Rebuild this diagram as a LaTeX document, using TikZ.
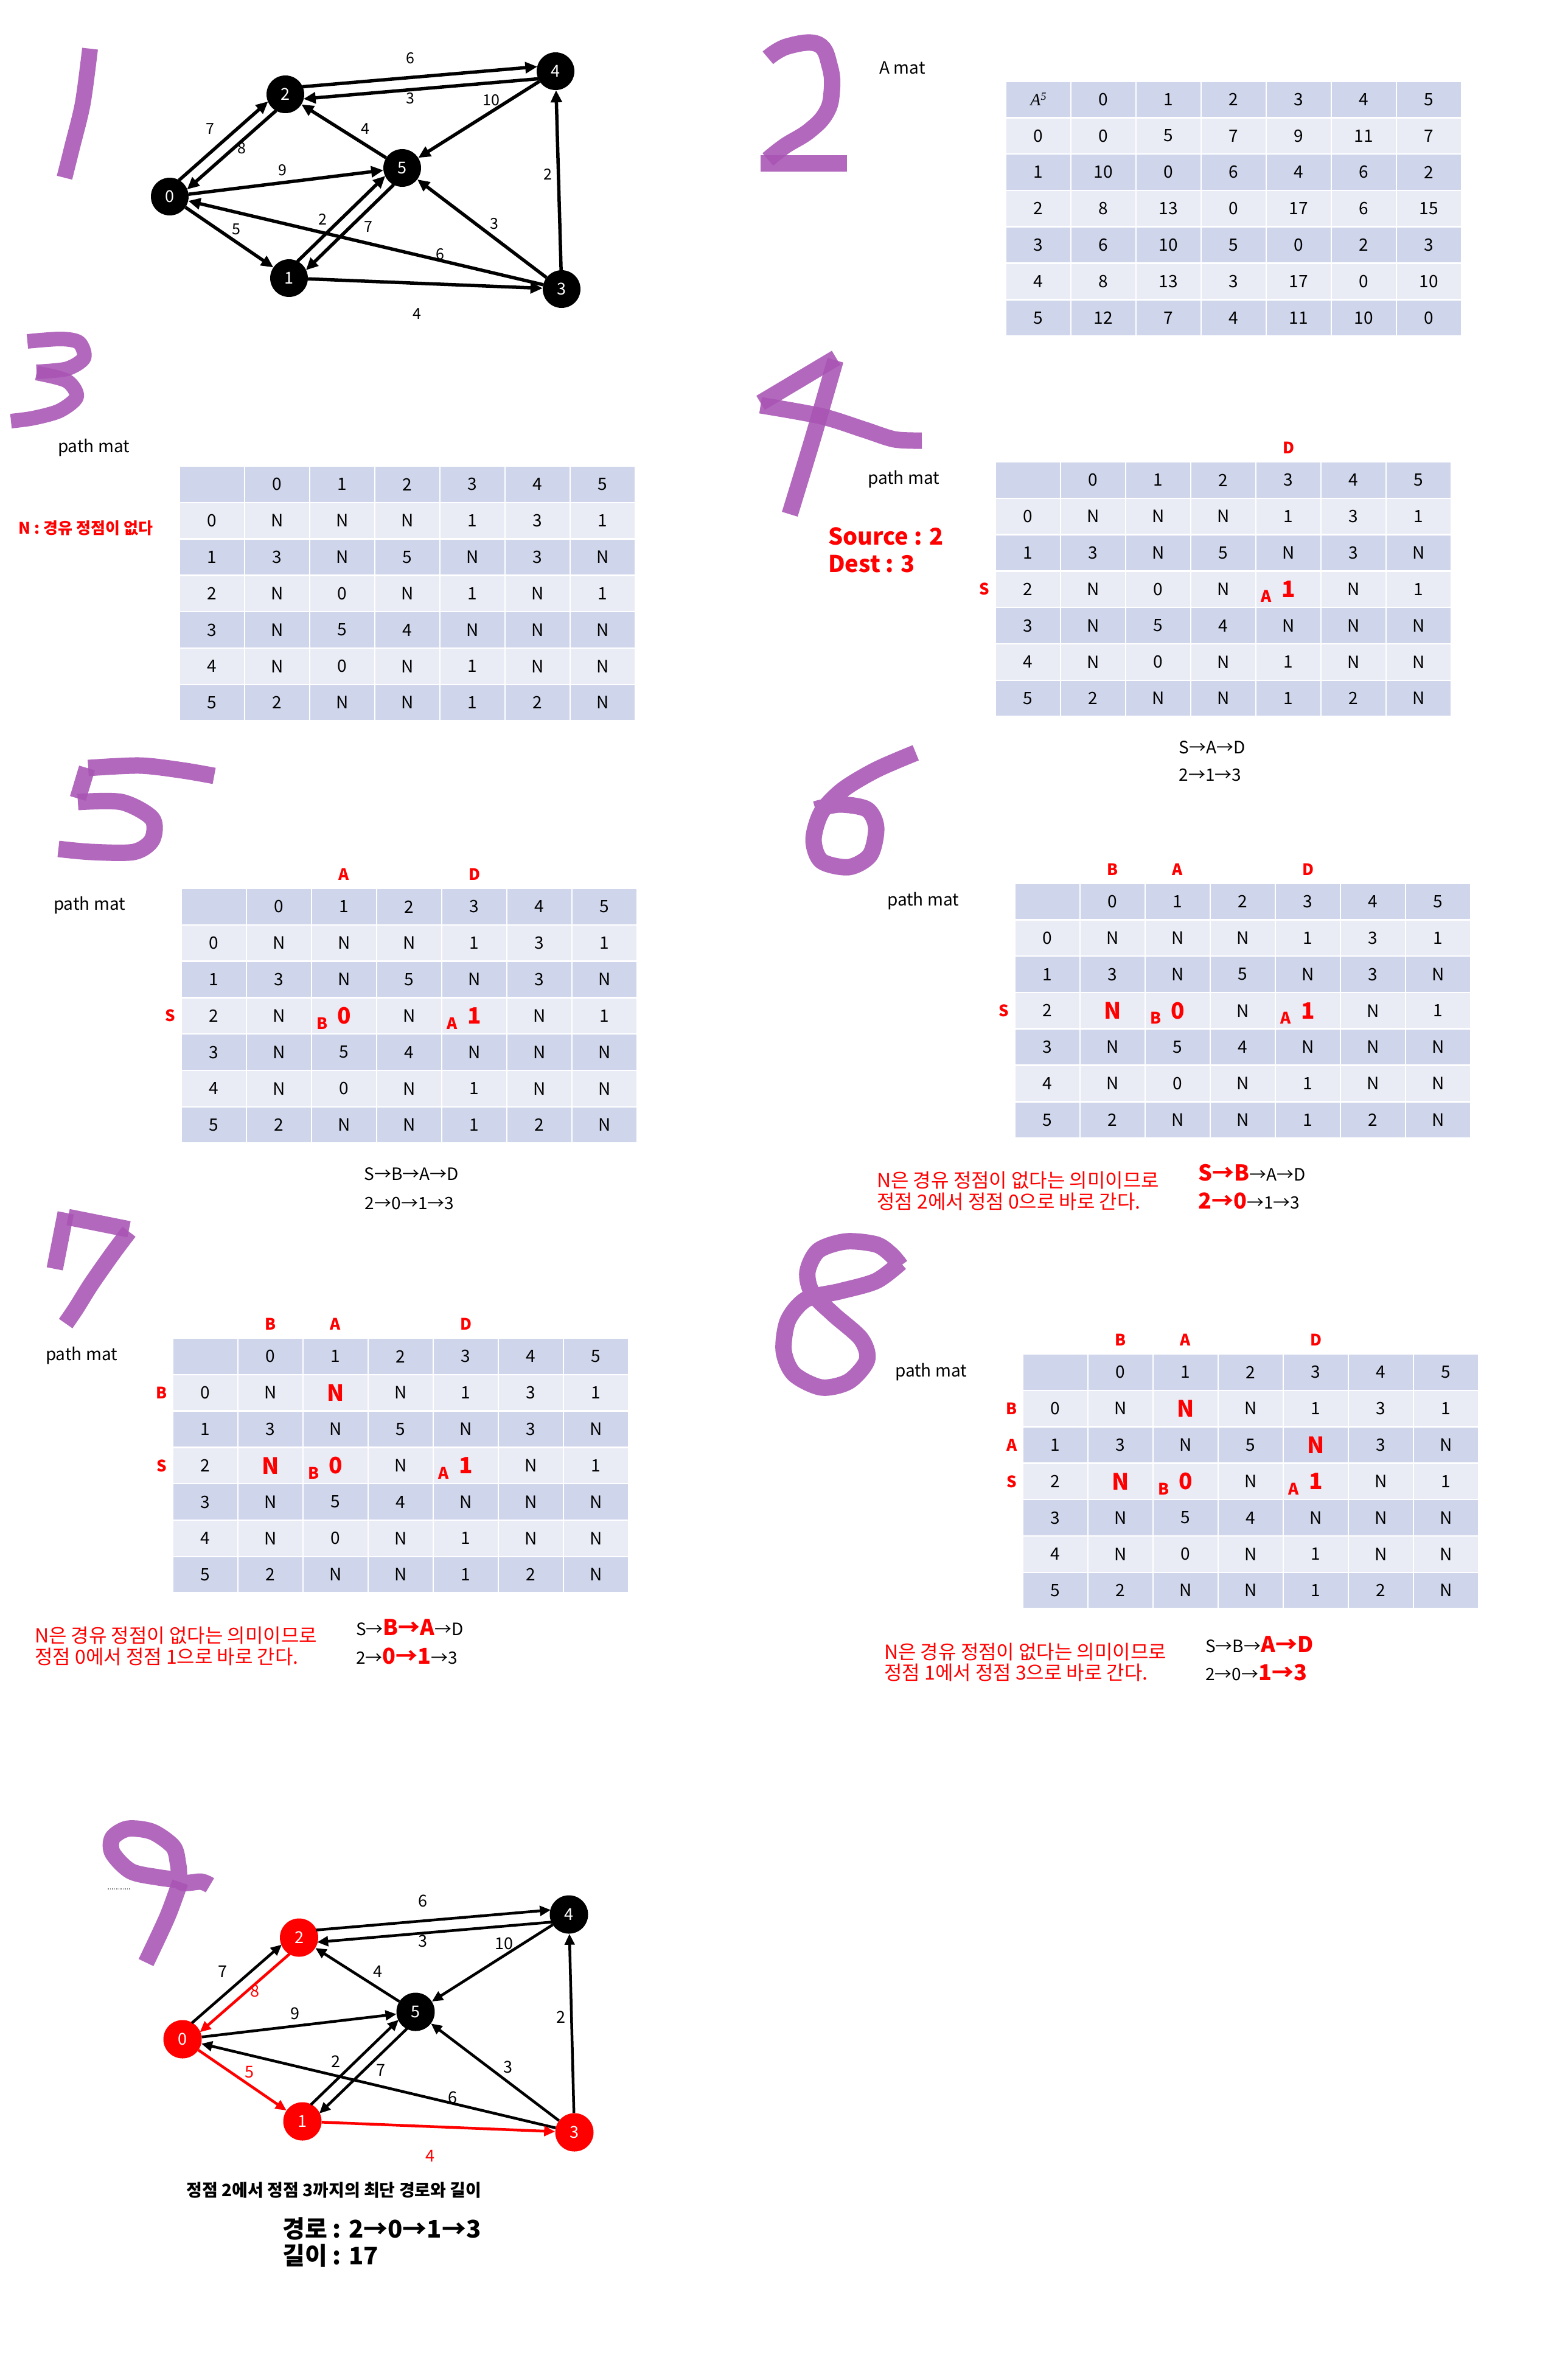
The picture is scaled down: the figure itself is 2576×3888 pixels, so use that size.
\documentclass[tikz,border=0pt]{standalone}
\usepackage{fontspec}
\setmainfont{Noto Sans CJK KR}
\newfontfamily\serifface{Liberation Serif}
\usetikzlibrary{arrows.meta,calc}
\definecolor{tdark}{RGB}{207,213,234}
\definecolor{tlight}{RGB}{233,235,245}
\definecolor{brushc}{RGB}{168,84,180}
\definecolor{hred}{RGB}{255,0,0}
\tikzset{
 brush/.style={draw=brushc, line width=27pt, opacity=0.88, line join=round, line cap=butt},
 cell/.style={draw=white, line width=2.5pt, inner sep=0pt, minimum width=107pt, minimum height=59.8pt, font=\fontsize{28}{32}\selectfont},
 bigred/.style={text=hred, font=\bfseries\fontsize{37}{40}\selectfont},
 redlet/.style={text=hred, font=\bfseries\fontsize{26}{30}\selectfont, inner sep=0pt},
 gnode/.style={circle, fill=black, text=white, minimum size=62pt, inner sep=0pt, font=\fontsize{27}{30}\selectfont},
 rnode/.style={gnode, fill=hred},
 e1/.style={draw=black, line width=5.5pt, -{Triangle[length=20pt,width=18pt]}},
 pe1/.style={e1, shorten <=29pt, shorten >=29pt},
 e9/.style={draw=black, line width=4.5pt, -{Triangle[length=18pt,width=16pt]}},
 pe9/.style={e9, shorten <=29pt, shorten >=29pt},
 elab/.style={font=\fontsize{25}{28}\selectfont, inner sep=0pt},
 lab/.style={font=\fontsize{28}{32}\selectfont, inner sep=0pt},
 ptxt/.style={font=\fontsize{28}{32}\selectfont, inner sep=0pt, anchor=west},
 krtxt/.style={font=\fontsize{32}{36}\selectfont, text=hred, inner sep=0pt, anchor=west},
}
\newcommand{\rb}[1]{{\color{hred}\bfseries\fontsize{36}{40}\selectfont #1}}
\def\pathdata{{{},0,1,2,3,4,5},{0,N,N,N,1,3,1},{1,3,N,5,N,3,N},{2,N,0,N,1,N,1},{3,N,5,4,N,N,N},{4,N,0,N,1,N,N},{5,2,N,N,1,2,N}}
\def\adata{{{\serifface\itshape A\raisebox{9pt}{\fontsize{18}{20}\selectfont 5}},0,1,2,3,4,5},{0,0,5,7,9,11,7},{1,10,0,6,4,6,2},{2,8,13,0,17,6,15},{3,6,10,5,0,2,3},{4,8,13,3,17,0,10},{5,12,7,4,11,10,0}}
\newcommand{\mktable}[4]{%
  \foreach \rowdata [count=\ri from 0] in #4 {
    \pgfmathtruncatemacro{\rodd}{mod(\ri,2)}
    \ifnum\rodd=0 \def\cc{tdark}\else\def\cc{tlight}\fi
    \foreach \v [count=\ci from 0] in \rowdata {
      \node[cell, fill=\cc] (#1-\ri-\ci) at ({#2+(\ci+0.5)*107}, {#3+(\ri+0.5)*59.8}) {\v};
    }
  }
}
\newcommand{\hlcell}[4]{\node[cell, fill=#3, bigred] (#1) at (#2) {#4};}
\newcommand{\collab}[3]{\node[redlet, anchor=base] (#1) at ($(#2.north)+(0,-12)$) {#3};}
\newcommand{\rowlab}[3]{\node[redlet] (#1) at ($(#2.west)+(-17,0)$) {#3};}
\newcommand{\sublab}[3]{\node[redlet] (#1) at ($(#2)+(-36,12)$) {#3};}
\begin{document}
\begin{tikzpicture}[x=1pt,y=-1pt]
\useasboundingbox (0,0) rectangle (2576,3888);
\fill[white] (0,0) rectangle (2576,3888);

% ---------- purple digits ----------
\draw[brush, line width=26pt] plot[smooth] coordinates {(148,80) (136,170) (119,240) (106,292)};
\draw[brush] plot[smooth, tension=0.7] coordinates {(1262,95) (1295,76) (1345,73) (1364,110) (1367,150) (1358,185) (1330,215) (1290,240) (1262,262)};
\draw[brush] (1250,269) -- (1392,269);
\draw[brush, line width=24pt] plot[smooth] coordinates {(45,561) (100,557) (130,563) (138,588) (110,606) (60,611)};
\draw[brush, line width=24pt] plot[smooth] coordinates {(60,613) (110,626) (126,652) (98,675) (55,687) (18,692)};
\draw[brush] (1374,588) -- (1250,662);
\draw[brush] plot[smooth] coordinates {(1250,666) (1350,684) (1420,706) (1470,722) (1515,724)};
\draw[brush] plot[smooth] coordinates {(1373,592) (1336,720) (1298,845)};
\draw[brush] plot[smooth] coordinates {(145,1262) (230,1258) (300,1266) (352,1275)};
\draw[brush] (143,1262) -- (128,1312);
\draw[brush] plot[smooth] coordinates {(128,1318) (200,1318) (250,1345) (250,1380) (220,1400) (150,1400) (96,1395)};
\draw[brush] plot[smooth] coordinates {(1505,1237) (1440,1265) (1385,1298) (1350,1335) (1337,1380) (1350,1415) (1395,1425) (1430,1405) (1440,1360) (1425,1330) (1380,1322) (1340,1330)};
\draw[brush] (108,1993) -- (90,2085);
\draw[brush] (112,2000) -- (212,2020);
\draw[brush] plot[smooth] coordinates {(212,2024) (185,2060) (150,2110) (125,2150) (108,2175)};
\draw[brush] plot[smooth] coordinates {(1480,2075) (1440,2105) (1380,2122) (1325,2135) (1295,2170) (1288,2220) (1305,2258) (1350,2280) (1395,2270) (1425,2235) (1415,2200) (1370,2160) (1335,2125) (1327,2090) (1345,2055) (1390,2040) (1440,2045) (1465,2062) (1480,2080)};
\draw[brush] plot[smooth] coordinates {(300,3090) (260,3085) (215,3075) (185,3045) (185,3020) (210,3005) (250,3010) (285,3035) (293,3065) (298,3093) (330,3092) (345,3098)};
\draw[brush] plot[smooth] coordinates {(296,3093) (275,3150) (240,3225)};
\draw[gray, dotted, line width=1.5pt] (177,3104) -- (215,3104);

% ---------- graph 1 ----------
\node[gnode] (a0) at (279,323) {0};
\node[gnode] (a1) at (475,457) {1};
\node[gnode] (a2) at (469,155) {2};
\node[gnode] (a3) at (923,475) {3};
\node[gnode] (a4) at (913,117) {4};
\node[gnode] (a5) at (661,276) {5};
\draw[pe1] ($(a2)!10pt!90:(a4)$) -- ($(a4)!10pt!-90:(a2)$);
\draw[pe1] ($(a4)!10pt!90:(a2)$) -- ($(a2)!10pt!-90:(a4)$);
\draw[pe1] ($(a0)!10pt!90:(a2)$) -- ($(a2)!10pt!-90:(a0)$);
\draw[pe1] ($(a2)!10pt!90:(a0)$) -- ($(a0)!10pt!-90:(a2)$);
\draw[pe1] ($(a1)!10pt!90:(a5)$) -- ($(a5)!10pt!-90:(a1)$);
\draw[pe1] ($(a5)!10pt!90:(a1)$) -- ($(a1)!10pt!-90:(a5)$);
\draw[e1] (a5) -- (a2);
\draw[e1] (a4) -- (a5);
\draw[e1] (a0) -- (a5);
\draw[e1] (a3) -- (a4);
\draw[e1] (a0) -- (a1);
\draw[e1] (a3) -- (a5);
\draw[e1] (a3) -- (a0);
\draw[e1] (a1) -- (a3);
\node[elab] (al1) at (674,96) {6};
\node[elab] (al2) at (674,162) {3};
\node[elab] (al3) at (807,165) {10};
\node[elab] (al4) at (345,212) {7};
\node[elab] (al5) at (397,244) {8};
\node[elab] (al6) at (600,212) {4};
\node[elab] (al7) at (464,280) {9};
\node[elab] (al8) at (900,286) {2};
\node[elab] (al9) at (388,377) {5};
\node[elab] (al10) at (530,360) {2};
\node[elab] (al11) at (605,373) {7};
\node[elab] (al12) at (812,368) {3};
\node[elab] (al13) at (723,418) {6};
\node[elab] (al14) at (685,516) {4};

% ---------- 2: A mat ----------
\node[lab] (amat) at (1483,111) {A mat};
\mktable{t2}{1653}{133.5}{\adata}

% ---------- 3 ----------
\node[lab] (pm3) at (154,736) {path mat};
\node[text=hred, font=\bfseries\fontsize{26}{30}\selectfont, inner sep=0pt] (nnote) at (141,868) {N : 경유 정점이 없다};
\mktable{t3}{295}{766}{\pathdata}

% ---------- 4 ----------
\node[lab] (pm4) at (1485,788) {path mat};
\node[text=hred, font=\bfseries\fontsize{38}{42}\selectfont, inner sep=0pt, anchor=west] (src) at (1361,881) {Source : 2};
\node[text=hred, font=\bfseries\fontsize{38}{42}\selectfont, inner sep=0pt, anchor=west] (dst) at (1361,927) {Dest : 3};
\mktable{t4}{1636}{759}{\pathdata}
\collab{t4D}{t4-0-4}{D}
\rowlab{t4S}{t4-3-0}{S}
\hlcell{t4h1}{t4-3-4}{tlight}{1}
\sublab{t4A}{t4-3-4}{A}
\node[lab] (p4a) at (1992,1228) {S→A→D};
\node[lab] (p4b) at (1989,1274) {2→1→3};

% ---------- 5 ----------
\node[lab] (pm5) at (147,1488) {path mat};
\mktable{t5}{298}{1460}{\pathdata}
\collab{t5A}{t5-0-2}{A}
\collab{t5D}{t5-0-4}{D}
\rowlab{t5S}{t5-3-0}{S}
\hlcell{t5h1}{t5-3-2}{tlight}{0}
\sublab{t5B}{t5-3-2}{B}
\hlcell{t5h2}{t5-3-4}{tlight}{1}
\sublab{t5A2}{t5-3-4}{A}
\node[lab] (p5a) at (676,1929) {S→B→A→D};
\node[lab] (p5b) at (673,1977) {2→0→1→3};

% ---------- 6 ----------
\node[lab] (pm6) at (1517,1481) {path mat};
\mktable{t6}{1668}{1451.5}{\pathdata}
\collab{t6B}{t6-0-1}{B}
\collab{t6A}{t6-0-2}{A}
\collab{t6D}{t6-0-4}{D}
\rowlab{t6S}{t6-3-0}{S}
\hlcell{t6h0}{t6-3-1}{tlight}{N}
\hlcell{t6h1}{t6-3-2}{tlight}{0}
\sublab{t6B2}{t6-3-2}{B}
\hlcell{t6h2}{t6-3-4}{tlight}{1}
\sublab{t6A2}{t6-3-4}{A}
\node[krtxt] (k6a) at (1441,1940) {N은 경유 정점이 없다는 의미이므로};
\node[krtxt] (k6b) at (1441,1975) {정점 2에서 정점 0으로 바로 간다.};
\node[ptxt] (p6a) at (1969,1927) {\rb{S→B}→A→D};
\node[ptxt] (p6b) at (1969,1973) {\rb{2→0}→1→3};

% ---------- 7 ----------
\node[lab] (pm7) at (134,2228) {path mat};
\mktable{t7}{284}{2199}{\pathdata}
\collab{t7B}{t7-0-1}{B}
\collab{t7A}{t7-0-2}{A}
\collab{t7D}{t7-0-4}{D}
\rowlab{t7Br}{t7-1-0}{B}
\rowlab{t7S}{t7-3-0}{S}
\hlcell{t7h3}{t7-1-2}{tlight}{N}
\hlcell{t7h0}{t7-3-1}{tlight}{N}
\hlcell{t7h1}{t7-3-2}{tlight}{0}
\sublab{t7B2}{t7-3-2}{B}
\hlcell{t7h2}{t7-3-4}{tlight}{1}
\sublab{t7A2}{t7-3-4}{A}
\node[krtxt] (k7a) at (57,2687) {N은 경유 정점이 없다는 의미이므로};
\node[krtxt] (k7b) at (57,2722) {정점 0에서 정점 1으로 바로 간다.};
\node[ptxt] (p7a) at (585,2674) {S→\rb{B→A}→D};
\node[ptxt] (p7b) at (585,2721) {2→\rb{0→1}→3};

% ---------- 8 ----------
\node[lab] (pm8) at (1530,2255) {path mat};
\mktable{t8}{1681}{2225}{\pathdata}
\collab{t8B}{t8-0-1}{B}
\collab{t8A}{t8-0-2}{A}
\collab{t8D}{t8-0-4}{D}
\rowlab{t8Br}{t8-1-0}{B}
\rowlab{t8Ar}{t8-2-0}{A}
\rowlab{t8S}{t8-3-0}{S}
\hlcell{t8h3}{t8-1-2}{tlight}{N}
\hlcell{t8h4}{t8-2-4}{tdark}{N}
\hlcell{t8h0}{t8-3-1}{tlight}{N}
\hlcell{t8h1}{t8-3-2}{tlight}{0}
\sublab{t8B2}{t8-3-2}{B}
\hlcell{t8h2}{t8-3-4}{tlight}{1}
\sublab{t8A2}{t8-3-4}{A}
\node[krtxt] (k8a) at (1453,2714) {N은 경유 정점이 없다는 의미이므로};
\node[krtxt] (k8b) at (1453,2748) {정점 1에서 정점 3으로 바로 간다.};
\node[ptxt] (p8a) at (1981,2702) {S→B→\rb{A→D}};
\node[ptxt] (p8b) at (1981,2748) {2→0→\rb{1→3}};

% ---------- 9 ----------
\node[rnode, minimum size=63pt] (b0) at (300,3351) {0};
\node[rnode, minimum size=63pt] (b1) at (497,3486) {1};
\node[rnode, minimum size=63pt] (b2) at (491.5,3184) {2};
\node[rnode, minimum size=63pt] (b3) at (944,3504) {3};
\node[gnode, minimum size=63pt] (b4) at (935,3146) {4};
\node[gnode, minimum size=63pt] (b5) at (683,3306) {5};
\draw[pe9] ($(b2)!10pt!90:(b4)$) -- ($(b4)!10pt!-90:(b2)$);
\draw[pe9] ($(b4)!10pt!90:(b2)$) -- ($(b2)!10pt!-90:(b4)$);
\draw[pe9] ($(b0)!10pt!90:(b2)$) -- ($(b2)!10pt!-90:(b0)$);
\draw[pe9, draw=hred, -{Triangle[length=18pt,width=16pt,fill=hred]}] ($(b2)!10pt!90:(b0)$) -- ($(b0)!10pt!-90:(b2)$);
\draw[pe9] ($(b1)!10pt!90:(b5)$) -- ($(b5)!10pt!-90:(b1)$);
\draw[pe9] ($(b5)!10pt!90:(b1)$) -- ($(b1)!10pt!-90:(b5)$);
\draw[e9] (b5) -- (b2);
\draw[e9] (b4) -- (b5);
\draw[e9] (b0) -- (b5);
\draw[e9] (b3) -- (b4);
\draw[e9, draw=hred] (b0) -- (b1);
\draw[e9] (b3) -- (b5);
\draw[e9] (b3) -- (b0);
\draw[e9, draw=hred] (b1) -- (b3);
\node[elab, font=\fontsize{27}{30}\selectfont] (bl1) at (695,3124) {6};
\node[elab, font=\fontsize{27}{30}\selectfont] (bl2) at (695,3190) {3};
\node[elab, font=\fontsize{27}{30}\selectfont] (bl3) at (828,3194) {10};
\node[elab, font=\fontsize{27}{30}\selectfont] (bl4) at (366,3240) {7};
\node[elab, font=\fontsize{27}{30}\selectfont, text=hred] (bl5) at (419,3272) {8};
\node[elab, font=\fontsize{27}{30}\selectfont] (bl6) at (621,3240) {4};
\node[elab, font=\fontsize{27}{30}\selectfont] (bl7) at (485,3309) {9};
\node[elab, font=\fontsize{27}{30}\selectfont] (bl8) at (922,3315) {2};
\node[elab, font=\fontsize{27}{30}\selectfont, text=hred] (bl9) at (410,3405) {5};
\node[elab, font=\fontsize{27}{30}\selectfont] (bl10) at (552,3388) {2};
\node[elab, font=\fontsize{27}{30}\selectfont] (bl11) at (626,3402) {7};
\node[elab, font=\fontsize{27}{30}\selectfont] (bl12) at (835,3397) {3};
\node[elab, font=\fontsize{27}{30}\selectfont] (bl13) at (744,3447) {6};
\node[elab, font=\fontsize{27}{30}\selectfont, text=hred] (bl14) at (707,3543) {4};
\node[font=\bfseries\fontsize{28}{32}\selectfont, inner sep=0pt] (cap) at (549,3599) {정점 2에서 정점 3까지의 최단 경로와 길이};
\node[font=\bfseries\fontsize{40}{44}\selectfont, inner sep=0pt, anchor=west] (res1) at (464,3662) {경로 : 2→0→1→3};
\node[font=\bfseries\fontsize{40}{44}\selectfont, inner sep=0pt, anchor=west] (res2) at (464,3706) {길이 : 17};
\end{tikzpicture}
\end{document}
